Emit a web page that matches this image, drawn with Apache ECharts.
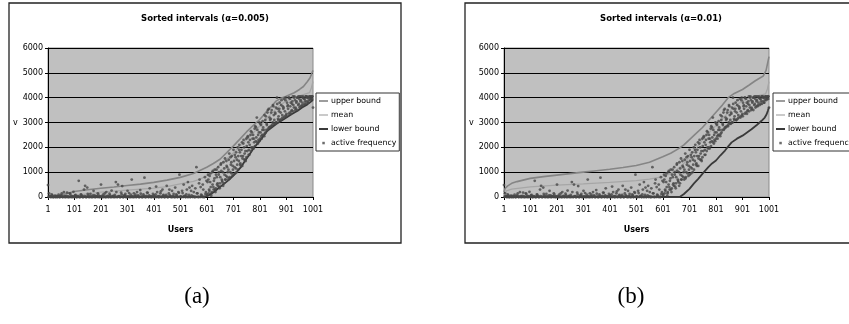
<!DOCTYPE html>
<html><head><meta charset="utf-8">
<script src="https://cdn.jsdelivr.net/npm/echarts@6/dist/echarts.min.js"></script>
<style>html,body{margin:0;padding:0;background:#fff}#c{width:849px;height:324px}</style>
</head><body><div id="c"></div>
<script>
// ---------- data ----------
const titles = ['Sorted intervals (\u03b1=0.005)', 'Sorted intervals (\u03b1=0.01)'];
const captions = ['(a)', '(b)'];
const seriesNames = ['upper bound', 'mean', 'lower bound', 'active frequency'];
const yTicks = [0, 1000, 2000, 3000, 4000, 5000, 6000];
const xTickLabels = [1, 101, 201, 301, 401, 501, 601, 701, 801, 901, 1001];

const upperA = [[1,0],[25,0],[50,80],[100,220],[150,290],[200,350],[250,400],[300,460],[350,520],[400,590],[450,680],[500,790],[550,950],[600,1200],[625,1350],[650,1520],[675,1780],[700,2050],[725,2330],[750,2620],[775,2880],[800,3120],[815,3300],[830,3500],[845,3650],[860,3850],[880,3980],[900,4060],[930,4200],[950,4330],[965,4450],[980,4650],[990,4800],[1001,5100]];
const meanA = [[1,0],[60,0],[100,60],[150,130],[200,200],[250,240],[300,280],[350,320],[400,360],[450,420],[500,530],[550,630],[577,730],[600,850],[627,1070],[650,1300],[675,1530],[701,1780],[725,2050],[754,2330],[775,2580],[801,2870],[825,3150],[850,3420],[875,3680],[900,3870],[925,3980],[950,4070],[988,4200],[995,4400],[1001,4650]];
const lowerA = [[1,0],[590,0],[610,80],[627,200],[645,360],[665,530],[685,700],[701,870],[715,1030],[729,1200],[741,1400],[754,1600],[767,1800],[779,2000],[790,2130],[801,2270],[815,2470],[829,2670],[845,2800],[861,2930],[880,3060],[901,3200],[920,3330],[943,3470],[960,3600],[980,3730],[995,3850],[1001,3930]];

const upperB = [[1,200],[5,350],[15,450],[30,550],[50,620],[100,750],[150,820],[200,880],[250,940],[300,1000],[350,1060],[400,1120],[450,1190],[500,1270],[550,1400],[600,1620],[630,1760],[660,1950],[680,2100],[700,2300],[725,2550],[750,2800],[775,3100],[800,3400],[825,3700],[847,4000],[870,4170],[901,4330],[925,4500],[948,4670],[965,4780],[979,4870],[990,5100],[1001,5650]];
const meanB = [[1,50],[10,250],[30,320],[100,410],[200,480],[300,530],[400,590],[500,660],[550,720],[600,820],[625,920],[650,1080],[675,1300],[700,1600],[725,1950],[750,2300],[775,2600],[800,2870],[825,3150],[850,3420],[875,3680],[900,3870],[925,3980],[950,4050],[988,4150],[995,4350],[1001,4650]];
const lowerB = [[1,0],[664,0],[680,120],[701,330],[718,550],[734,730],[752,960],[772,1200],[786,1350],[801,1470],[818,1680],[835,1870],[848,2050],[860,2200],[880,2350],[901,2470],[918,2600],[935,2730],[955,2900],[973,3070],[985,3200],[992,3330],[997,3480],[1001,3620]];

// active frequency (same data in both panels)
// first set: users 1, 5, 9, ... 1001
const freqStep = 4;
const activeFreq1 = [
480,150,20,0,60,0,10,0,40,0,
90,0,20,150,0,200,30,0,180,10,
0,120,40,0,210,0,80,0,30,650,
0,100,20,0,300,450,0,380,50,0,
120,10,0,250,60,0,30,150,0,20,
500,0,90,10,0,200,40,0,130,0,
260,20,0,80,600,0,500,30,0,180,
440,0,60,120,0,250,20,0,90,700,
0,150,30,0,200,60,0,280,10,0,
100,780,0,40,170,0,350,20,0,120,
60,0,420,200,0,30,150,0,300,80,
0,20,450,0,140,60,0,250,30,0,
380,100,0,200,900,20,0,160,500,40,
0,300,600,80,0,250,450,20,0,350,
1200,150,0,700,400,60,500,0,800,200,
100,900,300,600,50,1000,400,750,200,1100,
550,900,350,1300,700,1000,550,1550,850,1200,
700,1750,1000,1400,850,1900,1200,1600,1000,2000,
1450,1800,1250,2200,1650,2000,1500,2350,1850,2200,
1700,2500,2000,2350,1950,2750,2250,3200,2150,2600,
2350,2900,2500,2800,2450,3100,2700,3400,2750,3200,
2850,3500,3000,3300,2950,3600,4000,3150,3450,3100,
3700,3300,3550,3200,3900,3350,3650,4000,3400,3800,
3500,4050,3600,3900,3550,4000,3700,3950,3650,4050,
3800,4000,3750,4050,3850,4000,3900,4050,3950,4050,3600
];
// second set: users 3, 7, 11, ... 999
const activeFreq2 = [
0,30,0,100,0,0,50,0,0,20,
0,0,70,0,10,0,0,40,0,0,
150,0,0,20,0,60,0,0,10,0,
0,80,0,0,30,0,0,120,0,10,
0,0,60,0,0,20,0,90,0,0,
30,0,0,140,0,0,10,0,70,0,
0,40,0,0,200,0,20,0,0,100,
0,0,50,0,10,0,160,0,0,30,
0,0,90,0,20,0,0,130,0,0,
40,0,0,180,0,60,0,0,20,0,
0,100,0,30,0,0,230,0,50,0,
0,80,0,0,300,20,0,0,120,0,
0,60,0,170,0,0,250,0,30,0,
100,0,0,380,0,60,0,200,0,0,
150,0,550,0,90,0,300,0,120,650,
600,150,850,400,200,1050,650,300,900,500,
1200,420,800,1050,600,1400,900,700,1250,1000,
1500,800,1300,1650,1100,1450,950,1800,1300,1650,
2100,1350,1900,1550,2300,1750,1450,2050,2450,1900,
2300,2650,1950,2500,2200,2850,2400,2700,2300,3000,
2600,2350,3050,2700,2550,3250,2900,3500,2800,3100,
3400,2900,3650,3100,3350,3000,3550,3250,3800,3400,
3150,3650,3950,3450,3300,3800,3550,4000,3650,3450,
3850,3700,4050,3600,3850,4000,3750,4050,3900,3700,
4050,3950,3850,4050,4000,3800,4050,4000,3950,4050
];
// third set: users 602, 606, ... 998
const activeFreq3 = [
50,700,250,950,150,500,300,1100,350,800,
450,1000,550,1350,650,450,1150,700,1450,800,
1100,750,1600,950,1250,900,1700,1150,1500,1100,
1900,1300,1650,1250,2150,1500,1850,1600,2400,1700,
2100,1850,2600,2000,2350,2050,2800,2200,2500,2250,
2950,2450,2700,2500,3300,2600,2950,2700,3550,2800,
3150,2850,3700,2950,3400,3000,3750,3100,3550,3100,
3900,3200,3600,3250,4000,3250,3700,3350,3950,3350,
3750,3450,4000,3500,3800,3500,4050,3600,3850,3650,
4000,3700,3950,3750,4050,3800,4000,3900,4050,3950
];
const freqStart1 = 1, freqStart2 = 3, freqStart3 = 602;

// ---------- build ----------
const FONT = '"DejaVu Sans", sans-serif';
const colors = { upper: '#858585', mean: '#a6a6a6', lower: '#3a3a3a', dot: '#474747' };
const toXY = arr => arr.map(p => [p[0] - 1, p[1]]);
const setXY = (vals, start) => vals.map((v, i) => [start - 1 + i * freqStep, v]);
const freqXY = setXY(activeFreq1, freqStart1).concat(setXY(activeFreq2, freqStart2), setXY(activeFreq3, freqStart3));

const panels = [
  { left: 48, legendLeft: 316, upper: upperA, mean: meanA, lower: lowerA, titleX: 205, capX: 197, boxX: 9, boxW: 392 },
  { left: 504, legendLeft: 773, upper: upperB, mean: meanB, lower: lowerB, titleX: 661, capX: 631, boxX: 465, boxW: 420 }
];

const grid = [], xAxis = [], yAxis = [], series = [], legend = [], graphic = [];
panels.forEach((p, k) => {
  grid.push({ left: p.left, top: 48, width: 265, height: 149, show: true, backgroundColor: '#c0c0c0', borderColor: '#8a8a8a', borderWidth: 1 });
  xAxis.push({
    type: 'value', gridIndex: k, min: 0, max: xTickLabels[xTickLabels.length - 1] - 1, interval: xTickLabels[1] - xTickLabels[0],
    name: 'Users', nameLocation: 'middle', nameGap: 29,
    nameTextStyle: { fontFamily: FONT, fontSize: 8, fontWeight: 'bold', color: '#000' },
    axisLine: { show: true, lineStyle: { color: '#000', width: 1 } },
    axisTick: { show: true, length: 3, lineStyle: { color: '#000' } },
    axisLabel: { fontFamily: FONT, fontSize: 8, color: '#000', margin: 9, formatter: v => String(v + 1) },
    splitLine: { show: false }
  });
  yAxis.push({
    type: 'value', gridIndex: k, min: yTicks[0], max: yTicks[yTicks.length - 1], interval: yTicks[1] - yTicks[0],
    name: 'v', nameLocation: 'middle', nameRotate: 0, nameGap: 30,
    nameTextStyle: { fontFamily: FONT, fontSize: 8, color: '#000' },
    axisLine: { show: true, lineStyle: { color: '#000', width: 1 } },
    axisTick: { show: true, length: 3, lineStyle: { color: '#000' } },
    axisLabel: { fontFamily: FONT, fontSize: 8, color: '#000', margin: 5, formatter: v => String(v) },
    splitLine: { show: true, lineStyle: { color: '#000', width: 1 } }
  });
  const common = { type: 'line', xAxisIndex: k, yAxisIndex: k, symbol: 'none', showSymbol: false, silent: true, animation: false };
  series.push(Object.assign({}, common, { name: seriesNames[0], data: toXY(p.upper), color: colors.upper, lineStyle: { color: colors.upper, width: 1.6 }, z: 3 }));
  series.push(Object.assign({}, common, { name: seriesNames[1], data: toXY(p.mean), color: colors.mean, lineStyle: { color: colors.mean, width: 1.3 }, z: 3 }));
  series.push(Object.assign({}, common, { name: seriesNames[2], data: toXY(p.lower), color: colors.lower, lineStyle: { color: colors.lower, width: 1.8 }, z: 3 }));
  series.push({ type: 'scatter', name: seriesNames[3], xAxisIndex: k, yAxisIndex: k, data: freqXY, symbol: 'circle', symbolSize: 2.8,
    color: colors.dot, itemStyle: { color: colors.dot }, silent: true, animation: false, z: 4 });
  legend.push({
    left: p.legendLeft, top: 93, orient: 'vertical', backgroundColor: '#fff', borderColor: '#333', borderWidth: 1,
    padding: [4, 3, 4, 3], itemGap: 6, itemWidth: 9, itemHeight: 8, selectedMode: false,
    textStyle: { fontFamily: FONT, fontSize: 7.8, color: '#000', padding: [0, 0, 0, -2] },
    data: [
      { name: seriesNames[0], icon: 'path://M0,0M9,8M0,3.2H9V4.8H0Z' },
      { name: seriesNames[1], icon: 'path://M0,0M9,8M0,3.4H9V4.6H0Z' },
      { name: seriesNames[2], icon: 'path://M0,0M9,8M0,3H9V5H0Z' },
      { name: seriesNames[3], icon: 'path://M0,0M9,8M3.3,2.8H5.8V5.3H3.3Z' }
    ]
  });
  graphic.push({ type: 'rect', silent: true, z: -10, shape: { x: p.boxX, y: 3, width: p.boxW, height: 240 }, style: { fill: 'none', stroke: '#222', lineWidth: 1.3 } });
  graphic.push({ type: 'text', silent: true, x: p.titleX, y: 19, style: { text: titles[k], font: 'bold 8.5px ' + FONT, fill: '#000', align: 'center', verticalAlign: 'middle' } });
  graphic.push({ type: 'text', silent: true, x: p.capX, y: 297, style: { text: captions[k], font: '23px "Liberation Serif", serif', fill: '#000', align: 'center', verticalAlign: 'middle' } });
});

const chart = echarts.init(document.getElementById('c'), null, { renderer: 'canvas' });
chart.setOption({ animation: false, backgroundColor: '#fff', grid, xAxis, yAxis, series, legend, graphic });
</script></body></html>
